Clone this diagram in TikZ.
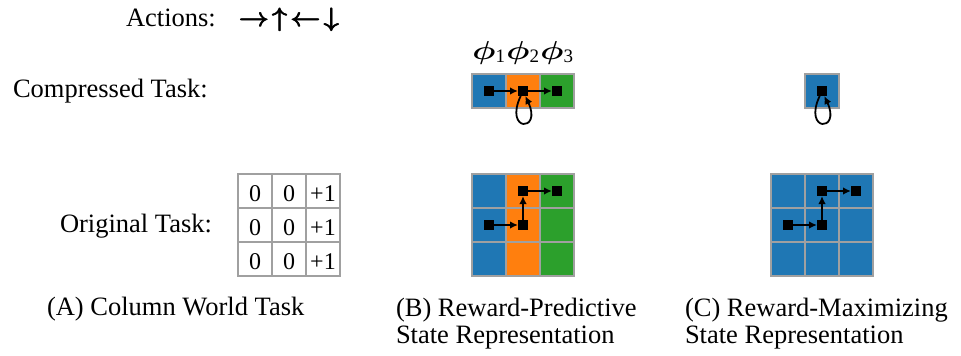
\RequirePackage{fix-cm}
\documentclass[tikz,border=0pt]{standalone}
\usepackage{fontspec}
\setmainfont{Liberation Serif}
\usepackage{amsmath,bm,graphicx}
\usetikzlibrary{arrows.meta}
\definecolor{tabblue}{RGB}{31,119,180}
\definecolor{taborange}{RGB}{255,127,14}
\definecolor{tabgreen}{RGB}{44,160,44}
\definecolor{gridgray}{RGB}{160,160,160}
\newcommand{\wphi}{\scalebox{1.25}[1]{$\bm{\phi}$}}
\newcommand{\harr}[1]{\pmb{$\bm{#1}$}}
\begin{document}
\begin{tikzpicture}[x=1pt,y=1pt,
  lbl/.style={font=\fontsize{26.5}{27}\selectfont, inner sep=0, outer sep=0, anchor=base west},
  philbl/.style={font=\fontsize{26}{26}\selectfont, inner sep=0, anchor=base},
  cell/.style={draw=gridgray, line width=2.7pt, minimum size=34pt, inner sep=0, outer sep=0},
  num/.style={font=\fontsize{24}{24}\selectfont, inner sep=0},
  agent/.style={fill=black, minimum size=10pt, inner sep=0, outer sep=0},
  arr/.style={line width=1.8pt, -{Latex[length=8pt,width=7.5pt]}}]
\useasboundingbox (0,0) rectangle (961,-356);

% labels
\node[lbl] (actions) at (126,-27) {Actions:};
\node[lbl] (acts) at (239,-27) {\harr{\rightarrow}\hspace{3pt}\harr{\uparrow}\hspace{3pt}\harr{\leftarrow}\hspace{3pt}\harr{\downarrow}};
\node[lbl] (comp) at (13,-97) {Compressed Task:};
\node[lbl] (orig) at (60,-232) {Original Task:};
\node[lbl] (capA) at (47,-315) {(A) Column World Task};
\node[lbl] (capB1) at (396,-316) {(B) Reward-Predictive};
\node[lbl] (capB2) at (396,-343) {State Representation};
\node[lbl] (capC1) at (685,-316) {(C) Reward-Maximizing};
\node[lbl] (capC2) at (685,-343) {State Representation};

% phi labels
\node[philbl] (phi1) at (489,-59) {\wphi$_{\text{\fontsize{19}{19}\selectfont 1}}$};
\node[philbl] (phi2) at (523,-59) {\wphi$_{\text{\fontsize{19}{19}\selectfont 2}}$};
\node[philbl] (phi3) at (557,-59) {\wphi$_{\text{\fontsize{19}{19}\selectfont 3}}$};

% grid A
\foreach \r in {0,1,2}{
  \foreach \c/\t in {0/0,1/0,2/+1}{
    \node[cell,fill=white] (a-\r-\c) at ({255+34*\c},{-191-34*\r}) {};
    \node[num] (an-\r-\c) at ({255+34*\c},{-194-34*\r}) {\t};
  }
}

% grid B
\foreach \r in {0,1,2}{
  \foreach \c/\col in {0/tabblue,1/taborange,2/tabgreen}{
    \node[cell,fill=\col] (b-\r-\c) at ({489+34*\c},{-191-34*\r}) {};
  }
}

% grid C
\foreach \r in {0,1,2}{
  \foreach \c in {0,1,2}{
    \node[cell,fill=tabblue] (c-\r-\c) at ({788+34*\c},{-191-34*\r}) {};
  }
}

% compressed B
\foreach \c/\col in {0/tabblue,1/taborange,2/tabgreen}{
  \node[cell,fill=\col] (cb-\c) at ({489+34*\c},-91) {};
}
% compressed C
\node[cell,fill=tabblue] (cc-0) at (822,-91) {};

% agents grid B
\node[agent] (bs1) at (489,-225) {};
\node[agent] (bs2) at (523,-225) {};
\node[agent] (bs3) at (523,-191) {};
\node[agent] (bs4) at (557,-191) {};
\draw[arr] (bs1) -- (bs2);
\draw[arr] (bs2) -- (bs3);
\draw[arr] (bs3) -- (bs4);

% agents grid C
\node[agent] (cs1) at (788,-225) {};
\node[agent] (cs2) at (822,-225) {};
\node[agent] (cs3) at (822,-191) {};
\node[agent] (cs4) at (856,-191) {};
\draw[arr] (cs1) -- (cs2);
\draw[arr] (cs2) -- (cs3);
\draw[arr] (cs3) -- (cs4);

% compressed B agents
\node[agent] (ps1) at (489,-91) {};
\node[agent] (ps2) at (523,-91) {};
\node[agent] (ps3) at (557,-91) {};
\draw[arr] (ps1) -- (ps2);
\draw[arr] (ps2) -- (ps3);
\draw[arr] (ps2) to[out=-115,in=-65,min distance=40pt] (ps2);

% compressed C agent
\node[agent] (qs1) at (822,-91) {};
\draw[arr] (qs1) to[out=-115,in=-65,min distance=40pt] (qs1);
\end{tikzpicture}
\end{document}
